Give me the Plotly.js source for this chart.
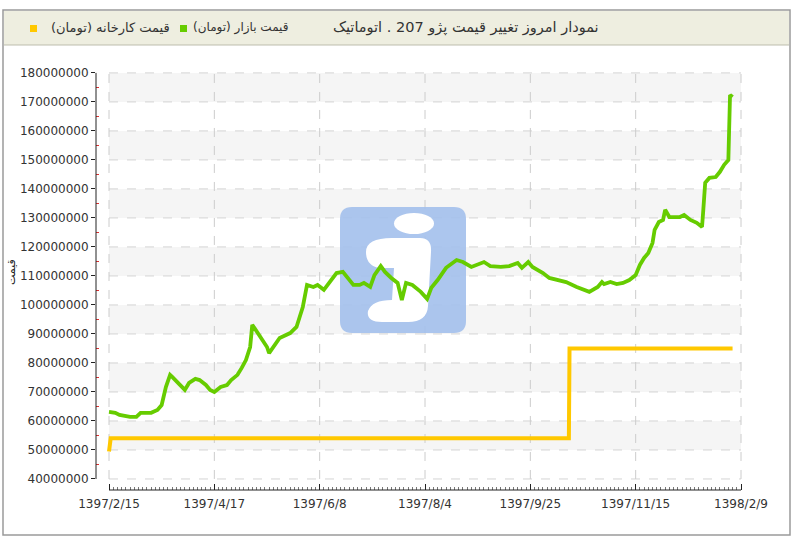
<!DOCTYPE html>
<html>
<head>
<meta charset="utf-8">
<script src="https://cdn.plot.ly/plotly-3.0.1.min.js"></script>
<style>
  html, body { margin: 0; padding: 0; background: #ffffff; }
  #chart { width: 800px; height: 539px; }
</style>
</head>
<body>
<div id="chart"></div>
<script>
// ---------- data ----------
const tickPositions = [0, 50, 100, 150, 200, 250, 300];
const tickLabels = ["1397/2/15", "1397/4/17", "1397/6/8", "1397/8/4", "1397/9/25", "1397/11/15", "1398/2/9"];

const marketX = [0, 3, 5, 10, 13, 15, 17, 20, 23, 25, 27, 29, 30, 34, 36, 38, 41, 43, 46, 48,
  50, 53, 56, 58, 61, 63, 65, 67, 68, 69, 72, 75, 76, 79, 81, 86, 89, 92, 94, 97,
  99, 102, 105, 108, 111, 113, 116, 119, 121, 124, 126, 129, 131, 134, 137, 139, 141, 144, 148, 151,
  153, 156, 160, 165, 168, 172, 178, 181, 186, 190, 194, 196, 199, 201, 206, 209, 214, 217, 222, 225,
  228, 232, 234, 235, 238, 241, 244, 247, 250, 252, 254, 256, 258, 259, 261, 263, 264, 266, 269, 271,
  273, 276, 279, 281.5, 282, 283, 285, 288, 290, 292, 294, 294.3, 294.8, 296];
const marketPrice = [63100000, 62800000, 62100000, 61400000, 61400000, 62800000, 62800000, 62800000, 63800000, 65500000,
  71700000, 75900000, 75200000, 72400000, 70700000, 73100000, 74500000, 74100000, 72400000, 70700000,
  70000000, 71700000, 72400000, 74100000, 75900000, 78300000, 81000000, 85500000, 93100000, 92100000,
  88600000, 85500000, 83400000, 86200000, 88600000, 90300000, 92400000, 99300000, 106900000, 106200000,
  106900000, 105200000, 107900000, 111000000, 111400000, 109700000, 106900000, 106900000, 107600000, 106200000,
  110300000, 113400000, 111400000, 109300000, 107600000, 101700000, 107600000, 106900000, 104500000, 102100000,
  105900000, 108600000, 112800000, 115500000, 114800000, 113100000, 114800000, 113400000, 113100000, 113400000,
  114500000, 112800000, 114800000, 113100000, 111000000, 109300000, 108600000, 107900000, 106200000, 105200000,
  104500000, 106200000, 107900000, 107200000, 107900000, 107200000, 107600000, 108600000, 110300000, 113800000,
  116200000, 117900000, 121400000, 125900000, 128600000, 129300000, 132800000, 130300000, 130300000, 130300000,
  131000000, 129300000, 128300000, 126900000, 131700000, 142100000, 143800000, 144100000, 145900000, 148300000,
  150000000, 161400000, 172400000, 171700000];

const factoryX = [0, 0.8, 218.3, 218.6, 296];
const factoryPrice = [49500000, 54000000, 54000000, 85000000, 85000000];

const yTickValues = [40000000, 50000000, 60000000, 70000000, 80000000, 90000000, 100000000,
  110000000, 120000000, 130000000, 140000000, 150000000, 160000000, 170000000, 180000000];

const titleText = "نمودار امروز تغییر قیمت پژو 207 . اتوماتیک";
const marketName = "قیمت بازار (تومان)";
const factoryName = "قیمت کارخانه (تومان)";
const yTitle = "قیمت";

// ---------- layout helpers ----------
const L = 96, T = 70, W = 647, H = 420;
const XMIN = -6.17, XMAX = 300.95, YMIN = 36200000, YMAX = 181000000;
const PX = px => (px - L) / W;                 // pixel -> paper
const PY = py => (T + H - py) / H;
const DX = px => XMIN + (px - L) / W * (XMAX - XMIN);   // pixel -> axis units (for decoration only)
const DY = py => YMIN + (T + H - py) / H * (YMAX - YMIN);
const D = (px, py) => DX(px) + "," + DY(py);

const GREEN = "#66cc00";
const YELLOW = "#ffc800";
const FONT = "DejaVu Sans";

const shapes = [];
// outer frame
shapes.push({type: "rect", xref: "paper", yref: "paper", x0: PX(3), x1: PX(790), y0: PY(535), y1: PY(10),
  line: {color: "#9a9a9a", width: 1.5}, fillcolor: "rgba(0,0,0,0)", layer: "below"});
// header band
shapes.push({type: "rect", xref: "paper", yref: "paper", x0: PX(4), x1: PX(789), y0: PY(45), y1: PY(11),
  line: {width: 0}, fillcolor: "#eeeee0", layer: "below"});
shapes.push({type: "line", xref: "paper", yref: "paper", x0: PX(4), x1: PX(789), y0: PY(45), y1: PY(45),
  line: {color: "#bdbdad", width: 1}, layer: "below"});

// alternating bands
for (let i = 0; i < yTickValues.length - 1; i++) {
  if (i % 2 === 1) {
    shapes.push({type: "rect", xref: "x", yref: "y", x0: tickPositions[0], x1: tickPositions[tickPositions.length - 1],
      y0: yTickValues[i], y1: yTickValues[i + 1], line: {width: 0}, fillcolor: "#f5f5f5", layer: "below"});
  }
}
// horizontal dashed grid
yTickValues.forEach(v => {
  shapes.push({type: "line", xref: "x", yref: "y", x0: tickPositions[0], x1: tickPositions[tickPositions.length - 1],
    y0: v, y1: v, line: {color: "#d4d4d4", width: 1, dash: "dash"}, layer: "below"});
});
// vertical dashed grid
tickPositions.forEach(t => {
  shapes.push({type: "line", xref: "x", yref: "y", x0: t, x1: t,
    y0: yTickValues[0], y1: yTickValues[yTickValues.length - 1], line: {color: "#cccccc", width: 1, dash: "dash"}, layer: "below"});
});

// watermark logo (decoration)
const rr = "M" + D(352, 207) + " L" + D(454, 207) + " Q" + D(466, 207) + " " + D(466, 219) +
  " L" + D(466, 321) + " Q" + D(466, 333) + " " + D(454, 333) + " L" + D(352, 333) + " Q" + D(340, 333) + " " + D(340, 321) +
  " L" + D(340, 219) + " Q" + D(340, 207) + " " + D(352, 207) + " Z";
shapes.push({type: "path", xref: "x", yref: "y", path: rr, fillcolor: "#a3c0ec", opacity: 0.9, line: {width: 0}, layer: "below"});
shapes.push({type: "circle", xref: "x", yref: "y", x0: DX(394), x1: DX(434), y0: DY(234), y1: DY(213),
  fillcolor: "#ffffff", line: {width: 0}, layer: "below"});
const body = "M" + D(366, 252) + " Q" + D(366, 238) + " " + D(392, 238) + " L" + D(420, 238) +
  " Q" + D(432, 238) + " " + D(431, 252) + " L" + D(428, 306) + " Q" + D(427, 322) + " " + D(408, 322) +
  " L" + D(382, 322) + " Q" + D(366, 322) + " " + D(368, 311) + " Q" + D(372, 300) + " " + D(392, 300) +
  " L" + D(394, 268) + " L" + D(380, 268) + " Q" + D(366, 266) + " " + D(366, 252) + " Z";
shapes.push({type: "path", xref: "x", yref: "y", path: body, fillcolor: "#ffffff", line: {width: 0}, layer: "below"});

// axis lines
shapes.push({type: "line", xref: "paper", yref: "y", x0: 0, x1: 0, y0: yTickValues[0], y1: yTickValues[yTickValues.length - 1],
  line: {color: "#222222", width: 1}});
shapes.push({type: "line", xref: "x", yref: "paper", x0: tickPositions[0], x1: tickPositions[tickPositions.length - 1], y0: 0, y1: 0,
  line: {color: "#222222", width: 1}});

// legend squares
shapes.push({type: "rect", xref: "paper", yref: "paper", x0: PX(180), x1: PX(187), y0: PY(32), y1: PY(25),
  fillcolor: GREEN, line: {width: 0}});
shapes.push({type: "rect", xref: "paper", yref: "paper", x0: PX(30), x1: PX(37), y0: PY(32), y1: PY(25),
  fillcolor: YELLOW, line: {width: 0}});

const annotations = [
  {text: titleText, xref: "paper", yref: "paper", x: PX(601), y: PY(28), xanchor: "right", yanchor: "middle",
    showarrow: false, font: {family: FONT, size: 14.5, color: "#333333"}},
  {text: marketName, xref: "paper", yref: "paper", x: PX(290), y: PY(28), xanchor: "right", yanchor: "middle",
    showarrow: false, font: {family: FONT, size: 12, color: "#333333"}},
  {text: factoryName, xref: "paper", yref: "paper", x: PX(172), y: PY(28), xanchor: "right", yanchor: "middle",
    showarrow: false, font: {family: FONT, size: 13, color: "#333333"}},
  {text: yTitle, xref: "paper", yref: "paper", x: PX(11), y: PY(272), xanchor: "center", yanchor: "middle",
    textangle: -90, showarrow: false, font: {family: FONT, size: 11, color: "#222222"}}
];

const minorX = [];
for (let i = 0; i <= 300; i += 2) minorX.push(i);

const traces = [
  {x: factoryX, y: factoryPrice, type: "scatter", mode: "lines", name: factoryName,
    line: {color: YELLOW, width: 4}, hoverinfo: "skip"},
  {x: marketX, y: marketPrice, type: "scatter", mode: "lines", name: marketName,
    line: {color: GREEN, width: 3.8}, hoverinfo: "skip"}
];

const layout = {
  width: 800, height: 539,
  margin: {l: L, r: 800 - L - W, t: T, b: 539 - T - H, pad: 0},
  paper_bgcolor: "#ffffff", plot_bgcolor: "rgba(0,0,0,0)",
  showlegend: false,
  font: {family: FONT, size: 12, color: "#333333"},
  xaxis: {
    range: [XMIN, XMAX], fixedrange: true,
    tickmode: "array", tickvals: tickPositions, ticktext: tickLabels,
    ticks: "inside", ticklen: 6, tickcolor: "#222222", tickwidth: 1,
    ticklabelstandoff: 5,
    minor: {tickmode: "array", tickvals: minorX, ticks: "inside", ticklen: 3, tickcolor: "#777777", tickwidth: 1, showgrid: false},
    showgrid: false, zeroline: false, showline: false,
    tickfont: {family: FONT, size: 12, color: "#333333"}
  },
  yaxis: {
    range: [YMIN, YMAX], fixedrange: true,
    tickmode: "array", tickvals: yTickValues, tickformat: "d",
    ticks: "outside", ticklen: 4, tickcolor: "#222222", tickwidth: 1,
    minor: {tickmode: "linear", tick0: 45000000, dtick: 10000000, ticks: "inside", ticklen: 3, tickcolor: "#e03030", tickwidth: 1, showgrid: false},
    showgrid: false, zeroline: false, showline: false,
    tickfont: {family: FONT, size: 12, color: "#333333"}
  },
  shapes: shapes,
  annotations: annotations
};

Plotly.newPlot("chart", traces, layout, {displayModeBar: false, staticPlot: true});
</script>
</body>
</html>
